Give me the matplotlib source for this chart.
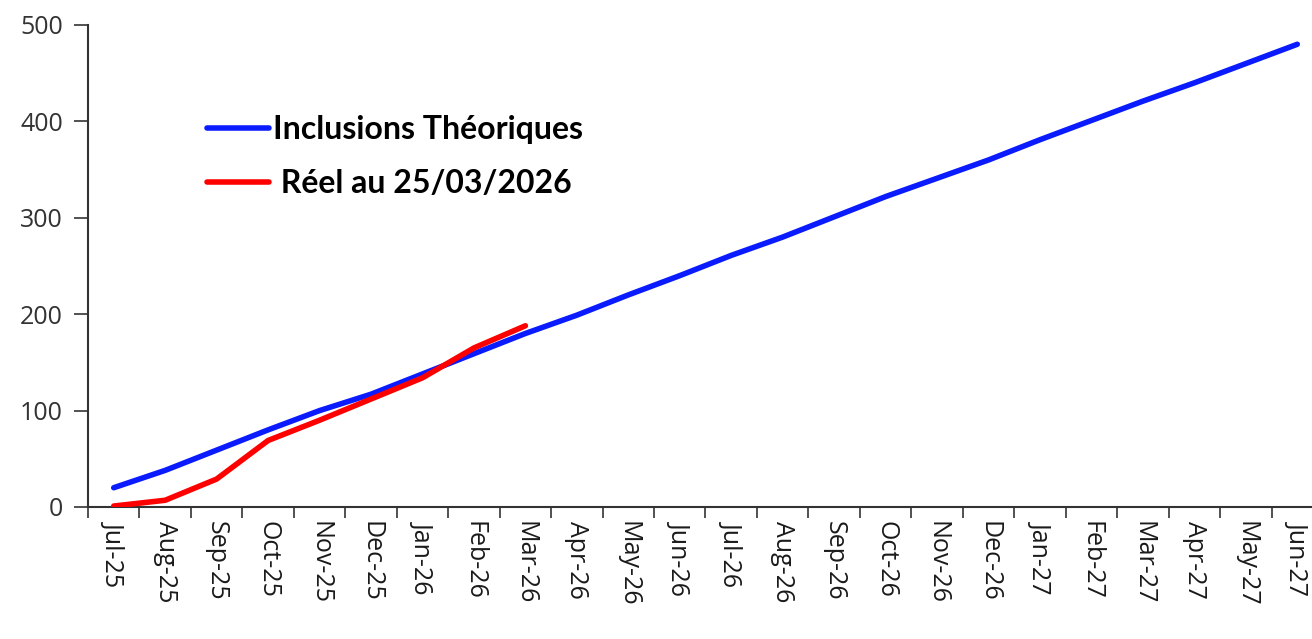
import matplotlib
matplotlib.use("Agg")
import matplotlib.pyplot as plt
from matplotlib.lines import Line2D

months = ["Jul-25", "Aug-25", "Sep-25", "Oct-25", "Nov-25", "Dec-25", "Jan-26", "Feb-26",
          "Mar-26", "Apr-26", "May-26", "Jun-26", "Jul-26", "Aug-26", "Sep-26", "Oct-26",
          "Nov-26", "Dec-26", "Jan-27", "Feb-27", "Mar-27", "Apr-27", "May-27", "Jun-27"]
theoriques = [20, 38, 59, 80, 100, 117, 138, 159, 180, 199, 220, 240, 261, 280, 301, 322,
              341, 360, 381, 401, 421, 440, 460, 480]
reel = [1, 7, 29, 69, 90, 112, 134, 165, 188]
yticks = [0, 100, 200, 300, 400, 500]

W, H = 1312, 639
fig = plt.figure(figsize=(W / 100, H / 100), dpi=100)
ax = fig.add_axes([88 / W, (H - 507) / H, (1323 - 88) / W, (507 - 25) / H])

x_t = list(range(len(theoriques)))
x_r = list(range(len(reel)))
ax.plot(x_t, theoriques, color="#0a1cff", lw=4.0, solid_capstyle="round", zorder=2)
ax.plot(x_r, reel, color="#ff0000", lw=4.0, solid_capstyle="round", zorder=3)

ax.set_xlim(-0.5, len(months) - 0.5)
ax.set_ylim(0, 500)
ax.set_yticks(yticks)
ax.set_yticklabels([str(v) for v in yticks])

tick_font = ["Open Sans", "Noto Sans", "DejaVu Sans"]

# category boundaries as major ticks, labels at centers (minor)
ax.set_xticks([i - 0.5 for i in range(len(months) + 1)])
ax.set_xticklabels([])
ax.set_xticks(range(len(months)), minor=True)
ax.set_xticklabels(months, minor=True, rotation=270, va="top", ha="center",
                   fontsize=18, family=tick_font, color="#1a1a1a")
ax.tick_params(axis="x", which="major", length=8, width=1.2, direction="out", color="#333333")
ax.tick_params(axis="x", which="minor", length=0, pad=10)
ax.tick_params(axis="y", length=10, width=1.2, direction="out", color="#333333", pad=8)
for lab in ax.get_yticklabels():
    lab.set_family(tick_font)
    lab.set_fontsize(18)
    lab.set_color("#333333")

for s in ["top", "right"]:
    ax.spines[s].set_visible(False)
for s in ["left", "bottom"]:
    ax.spines[s].set_color("#333333")
    ax.spines[s].set_linewidth(1.5)

handles = [Line2D([], [], color="#0a1cff", lw=4.0, solid_capstyle="round"),
           Line2D([], [], color="#ff0000", lw=4.0, solid_capstyle="round")]
leg = ax.legend(handles, ["Inclusions Théoriques", " Réel au 25/03/2026"],
                loc="upper left", bbox_to_anchor=(191 / W, 1 - 99 / H),
                bbox_transform=fig.transFigure, frameon=False,
                prop={"family": "Lato", "weight": "bold", "size": 23},
                handlelength=1.95, handletextpad=0.12, labelspacing=0.78, borderpad=0)

fig.savefig("out.png", dpi=100)
